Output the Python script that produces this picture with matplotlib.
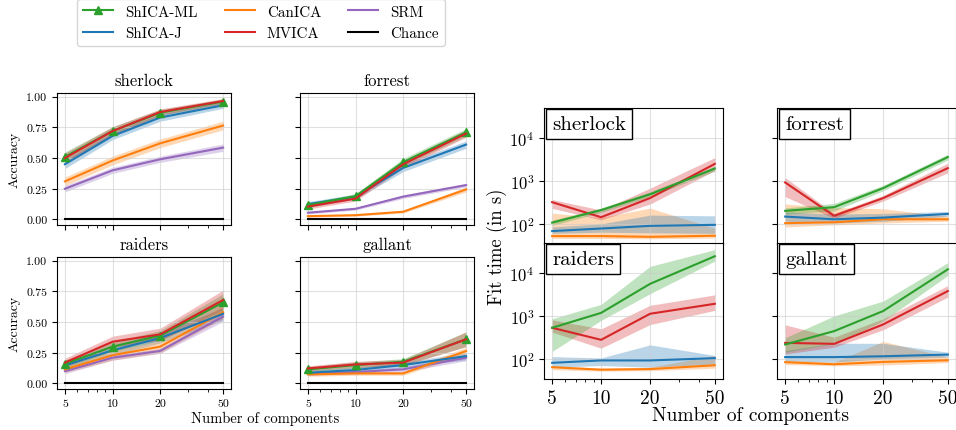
import matplotlib.pyplot as plt
from matplotlib.ticker import NullFormatter, NullLocator

plt.rcParams["font.family"] = "serif"
plt.rcParams["font.serif"] = ["cmr10"]
plt.rcParams["mathtext.fontset"] = "cm"
plt.rcParams["axes.formatter.use_mathtext"] = True

n_components = [5, 10, 20, 50]
datasets = ["sherlock", "forrest", "raiders", "gallant"]
methods = ["ShICA-ML", "ShICA-J", "CanICA", "MVICA", "SRM"]
time_methods = ["CanICA", "ShICA-J", "MVICA", "ShICA-ML"]
colors = {"ShICA-ML": "#2ca02c", "ShICA-J": "#1f77b4", "CanICA": "#ff7f0e",
          "MVICA": "#d62728", "SRM": "#9467bd"}

# accuracy (left panels): mean and half-width of band
acc_sherlock = {"ShICA-ML": [0.51, 0.72, 0.87, 0.96], "ShICA-J": [0.45, 0.68, 0.83, 0.93],
                "CanICA": [0.31, 0.48, 0.62, 0.765], "MVICA": [0.50, 0.72, 0.875, 0.965],
                "SRM": [0.25, 0.40, 0.49, 0.585]}
acc_sherlock_err = {"ShICA-ML": [0.04, 0.035, 0.025, 0.02], "ShICA-J": [0.035, 0.03, 0.03, 0.025],
                    "CanICA": [0.035, 0.035, 0.035, 0.035], "MVICA": [0.04, 0.035, 0.025, 0.02],
                    "SRM": [0.025, 0.025, 0.025, 0.03]}
acc_forrest = {"ShICA-ML": [0.117, 0.19, 0.467, 0.71], "ShICA-J": [0.125, 0.185, 0.42, 0.61],
               "CanICA": [0.027, 0.035, 0.063, 0.245], "MVICA": [0.105, 0.17, 0.45, 0.70],
               "SRM": [0.055, 0.087, 0.186, 0.28]}
acc_forrest_err = {"ShICA-ML": [0.02, 0.02, 0.03, 0.03], "ShICA-J": [0.02, 0.02, 0.03, 0.03],
                   "CanICA": [0.008, 0.008, 0.01, 0.02], "MVICA": [0.02, 0.02, 0.03, 0.03],
                   "SRM": [0.01, 0.01, 0.015, 0.015]}
acc_raiders = {"ShICA-ML": [0.16, 0.30, 0.39, 0.66], "ShICA-J": [0.147, 0.27, 0.37, 0.567],
               "CanICA": [0.115, 0.23, 0.30, 0.58], "MVICA": [0.17, 0.34, 0.40, 0.68],
               "SRM": [0.10, 0.21, 0.265, 0.545]}
acc_raiders_err = {"ShICA-ML": [0.03, 0.04, 0.04, 0.07], "ShICA-J": [0.03, 0.04, 0.04, 0.05],
                   "CanICA": [0.025, 0.04, 0.05, 0.05], "MVICA": [0.035, 0.045, 0.05, 0.08],
                   "SRM": [0.02, 0.02, 0.02, 0.04]}
acc_gallant = {"ShICA-ML": [0.115, 0.15, 0.177, 0.36], "ShICA-J": [0.087, 0.11, 0.15, 0.223],
               "CanICA": [0.074, 0.082, 0.082, 0.264], "MVICA": [0.123, 0.155, 0.17, 0.36],
               "SRM": [0.082, 0.093, 0.115, 0.21]}
acc_gallant_err = {"ShICA-ML": [0.02, 0.025, 0.025, 0.06], "ShICA-J": [0.02, 0.02, 0.02, 0.03],
                   "CanICA": [0.015, 0.015, 0.015, 0.03], "MVICA": [0.02, 0.025, 0.025, 0.06],
                   "SRM": [0.015, 0.015, 0.02, 0.025]}
chance = [0.001, 0.001, 0.001, 0.001]

# fit time in seconds (right panels): mean, lower and upper edge of band
time_sherlock = {"ShICA-ML": [107, 210, 490, 1950], "ShICA-J": [68, 78, 90, 95],
                 "CanICA": [52, 52, 50, 53], "MVICA": [320, 143, 400, 2500]}
time_sherlock_lo = {"ShICA-ML": [92, 185, 430, 1700], "ShICA-J": [60, 64, 62, 60],
                    "CanICA": [46, 46, 45, 47], "MVICA": [230, 124, 290, 1750]}
time_sherlock_hi = {"ShICA-ML": [122, 235, 560, 2200], "ShICA-J": [85, 100, 160, 154],
                    "CanICA": [178, 140, 233, 79], "MVICA": [370, 210, 680, 3500]}
time_forrest = {"ShICA-ML": [201, 245, 680, 3600], "ShICA-J": [148, 128, 140, 171],
                "CanICA": [104, 109, 128, 128], "MVICA": [922, 154, 398, 1990]}
time_forrest_lo = {"ShICA-ML": [170, 200, 590, 3100], "ShICA-J": [115, 105, 115, 150],
                   "CanICA": [85, 95, 105, 115], "MVICA": [430, 135, 340, 1550]}
time_forrest_hi = {"ShICA-ML": [235, 300, 790, 4200], "ShICA-J": [190, 170, 175, 195],
                   "CanICA": [290, 240, 225, 150], "MVICA": [1200, 175, 460, 2600]}
time_raiders = {"ShICA-ML": [530, 1180, 5600, 24600], "ShICA-J": [81, 92, 92, 104],
                "CanICA": [64, 56, 58, 71], "MVICA": [530, 278, 1125, 1920]}
time_raiders_lo = {"ShICA-ML": [150, 790, 3300, 19000], "ShICA-J": [64, 70, 64, 76],
                   "CanICA": [56, 52, 53, 61], "MVICA": [420, 177, 630, 1350]}
time_raiders_hi = {"ShICA-ML": [860, 1860, 14300, 35000], "ShICA-J": [113, 105, 212, 120],
                   "CanICA": [70, 61, 64, 120], "MVICA": [810, 500, 1770, 3100]}
time_gallant = {"ShICA-ML": [216, 443, 1300, 12200], "ShICA-J": [110, 110, 115, 126],
                "CanICA": [84, 75, 85, 93], "MVICA": [236, 224, 633, 3800]}
time_gallant_lo = {"ShICA-ML": [143, 225, 760, 8800], "ShICA-J": [91, 84, 100, 110],
                   "CanICA": [74, 69, 72, 82], "MVICA": [130, 187, 475, 2750]}
time_gallant_hi = {"ShICA-ML": [310, 1000, 2220, 17400], "ShICA-J": [156, 232, 230, 143],
                   "CanICA": [95, 84, 255, 110], "MVICA": [620, 320, 860, 5100]}

acc = {"sherlock": (acc_sherlock, acc_sherlock_err), "forrest": (acc_forrest, acc_forrest_err),
       "raiders": (acc_raiders, acc_raiders_err), "gallant": (acc_gallant, acc_gallant_err)}
times = {"sherlock": (time_sherlock, time_sherlock_lo, time_sherlock_hi),
         "forrest": (time_forrest, time_forrest_lo, time_forrest_hi),
         "raiders": (time_raiders, time_raiders_lo, time_raiders_hi),
         "gallant": (time_gallant, time_gallant_lo, time_gallant_hi)}


def setup_xaxis(ax, show_labels, size):
    ax.set_xscale("log")
    ax.set_xticks(n_components)
    ax.set_xticklabels([str(n) for n in n_components] if show_labels else [])
    ax.xaxis.set_minor_formatter(NullFormatter())
    ax.tick_params(axis="x", labelsize=size)
    ax.grid(True, color="#cccccc", alpha=0.6, lw=0.8)


def plot_all():
    W, H = 956, 431
    fig = plt.figure(figsize=(W / 100, H / 100), dpi=100)

    # left group: accuracy
    left_pos = {"sherlock": (57, 94), "forrest": (300, 94), "raiders": (57, 258), "gallant": (300, 258)}
    handles = {}
    for i, name in enumerate(datasets):
        x0, y0 = left_pos[name]
        ax = fig.add_axes([x0 / W, 1 - (y0 + 132) / H, 174 / W, 132 / H])
        means, errs = acc[name]
        for m in methods:
            lo = [a - e for a, e in zip(means[m], errs[m])]
            hi = [a + e for a, e in zip(means[m], errs[m])]
            ax.fill_between(n_components, lo, hi, color=colors[m], alpha=0.3, lw=0)
        for m in ["SRM", "CanICA", "ShICA-J", "ShICA-ML", "MVICA"]:
            if m == "ShICA-ML":
                h, = ax.plot(n_components, means[m], color=colors[m], lw=1.5, marker="^", ms=6)
            else:
                h, = ax.plot(n_components, means[m], color=colors[m], lw=1.5)
            handles[m] = h
        handles["Chance"], = ax.plot(n_components, chance, color="black", lw=1.5)
        setup_xaxis(ax, i >= 2, 8.5)
        ax.set_ylim(-0.045, 1.03)
        ax.set_yticks([0, 0.25, 0.5, 0.75, 1.0])
        ax.yaxis.set_major_formatter(plt.FormatStrFormatter("%.2f"))
        ax.tick_params(axis="y", labelsize=8.5)
        if i % 2 == 1:
            ax.set_yticklabels([])
        else:
            ax.set_ylabel("Accuracy", fontsize=10)
        ax.set_title(name, fontsize=12)

    fig.text(265 / W, 1 - 419 / H, "Number of components", ha="center", va="center", fontsize=10.5)

    order = ["ShICA-ML", "ShICA-J", "CanICA", "MVICA", "SRM", "Chance"]
    fig.legend([handles[k] for k in order], order, ncol=3, loc="upper center",
               bbox_to_anchor=(261 / W, 1.0), borderaxespad=0, fontsize=10.8,
               columnspacing=1.8)

    # right group: fit time
    right_pos = {"sherlock": (544, 109), "forrest": (777, 109), "raiders": (544, 244), "gallant": (777, 244)}
    for i, name in enumerate(datasets):
        x0, y0 = right_pos[name]
        ax = fig.add_axes([x0 / W, 1 - (y0 + 136) / H, 179 / W, 136 / H])
        means, los, his = times[name]
        for m in time_methods:
            ax.fill_between(n_components, los[m], his[m], color=colors[m], alpha=0.3, lw=0)
        for m in time_methods:
            ax.plot(n_components, means[m], color=colors[m], lw=1.5)
        setup_xaxis(ax, i >= 2, 14)
        ax.set_yscale("log")
        ax.set_ylim(34, 5e4)
        ax.set_yticks([1e2, 1e3, 1e4])
        ax.yaxis.set_minor_locator(NullLocator())
        ax.tick_params(axis="y", labelsize=12)
        if i % 2 == 1:
            ax.set_yticklabels([])
        ax.text(0.045, 0.95, name, transform=ax.transAxes, ha="left", va="top", fontsize=15,
                bbox=dict(boxstyle="square,pad=0.3", fc="white", ec="black", lw=1))

    fig.text(497 / W, 1 - 247 / H, "Fit time (in s)", rotation=90, ha="center", va="center", fontsize=13.5)
    fig.text(750 / W, 1 - 416 / H, "Number of components", ha="center", va="center", fontsize=14)

    fig.savefig("out.png", dpi=100)


if __name__ == "__main__":
    plot_all()
